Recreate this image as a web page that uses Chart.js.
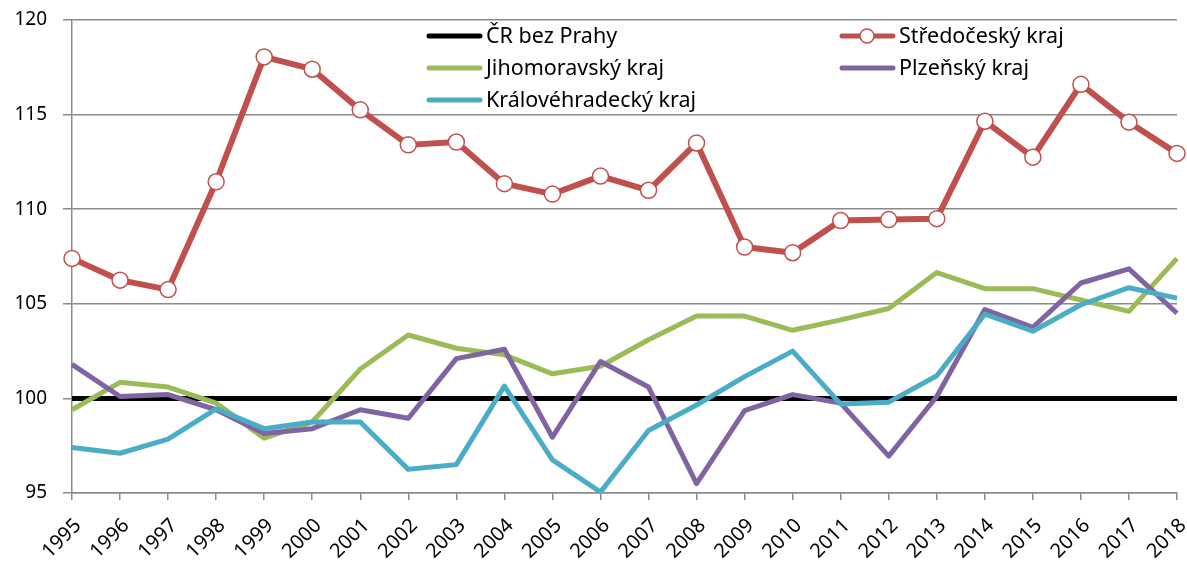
<!DOCTYPE html>
<html>
<head>
<meta charset="utf-8">
<script src="https://cdn.jsdelivr.net/npm/chart.js@4"></script>
<style>
  html, body { margin: 0; padding: 0; background: #fff; }
  #wrap { width: 1187px; height: 563px; }
</style>
</head>
<body>
<div id="wrap"><canvas id="myLineChart1"></canvas></div>
<script>
// roky na ose X
var roky = ["1995","1996","1997","1998","1999","2000","2001","2002","2003","2004","2005","2006",
            "2007","2008","2009","2010","2011","2012","2013","2014","2015","2016","2017","2018"];

// hodnoty jednotlivych krajov (CR bez Prahy = 100)
var crBezPrahy = [100,100,100,100,100,100,100,100,100,100,100,100,100,100,100,100,100,100,100,100,100,100,100,100];
var stredocesky = [107.4,106.25,105.75,111.45,118.05,117.4,115.25,113.4,113.55,111.35,110.8,111.75,
                   111.0,113.5,108.0,107.7,109.4,109.45,109.5,114.65,112.75,116.6,114.6,112.95];
var jihomoravsky = [99.4,100.85,100.6,99.75,97.9,98.75,101.55,103.35,102.65,102.3,101.3,101.7,
                    103.1,104.35,104.35,103.6,104.15,104.75,106.65,105.8,105.8,105.2,104.6,107.4];
var plzensky = [101.8,100.1,100.2,99.4,98.15,98.4,99.4,98.95,102.1,102.6,97.95,101.95,
                100.6,95.5,99.35,100.2,99.75,96.95,100.1,104.7,103.75,106.1,106.85,104.5];
var kralovehradecky = [97.4,97.1,97.85,99.45,98.4,98.75,98.75,96.25,96.5,100.65,96.75,95.05,
                       98.3,99.65,101.15,102.5,99.7,99.8,101.2,104.45,103.55,104.95,105.85,105.3];

var FONT = "'Noto Sans', sans-serif";
var GRID = "#8a8a8a";

// legenda ve dvou sloupcich uvnitr grafu
var legendaPlugin = {
  id: 'legenda',
  afterDraw: function (chart) {
    var c = chart.ctx;
    var a = chart.chartArea;
    var ds = chart.data.datasets;
    var sloupce = [a.left + 355, a.left + 768];
    var radky = [a.top + 16, a.top + 48, a.top + 80];
    c.save();
    c.font = "21.5px " + FONT;
    c.textBaseline = "middle";
    for (var i = 0; i < ds.length; i++) {
      var d = ds[i];
      var x = sloupce[i % 2];
      var y = radky[Math.floor(i / 2)];
      c.lineCap = "round";
      c.strokeStyle = d.borderColor;
      c.lineWidth = 5;
      c.beginPath();
      c.moveTo(x + 2, y);
      c.lineTo(x + 53, y);
      c.stroke();
      if (d.pointRadius > 0) {
        c.beginPath();
        c.arc(x + 27, y, 7, 0, Math.PI * 2);
        c.fillStyle = d.pointBackgroundColor;
        c.fill();
        c.lineWidth = 1.5;
        c.strokeStyle = d.pointBorderColor;
        c.stroke();
      }
      c.fillStyle = "#000";
      c.fillText(d.label, x + 59, y + 1);
    }
    c.restore();
  }
};

var ctx = document.getElementById("myLineChart1");
var myChart = new Chart(ctx, {
  type: 'line',
  data: {
    labels: roky,
    datasets: [
      { label: 'ČR bez Prahy', data: crBezPrahy, borderColor: '#000000', borderWidth: 5,
        pointRadius: 0, order: 5 },
      { label: 'Středočeský kraj', data: stredocesky, borderColor: '#C0504D', borderWidth: 6,
        pointRadius: 8, pointBackgroundColor: '#ffffff', pointBorderColor: '#C0504D',
        pointBorderWidth: 1.5, order: 4 },
      { label: 'Jihomoravský kraj', data: jihomoravsky, borderColor: '#9BBB59', borderWidth: 5,
        pointRadius: 0, order: 3 },
      { label: 'Plzeňský kraj', data: plzensky, borderColor: '#8064A2', borderWidth: 5,
        pointRadius: 0, order: 2 },
      { label: 'Královéhradecký kraj', data: kralovehradecky, borderColor: '#4BACC6', borderWidth: 5,
        pointRadius: 0, order: 1 }
    ]
  },
  options: {
    responsive: true,
    maintainAspectRatio: false,
    animation: false,
    layout: { padding: { top: 20, right: 10, left: 0, bottom: 0 } },
    elements: { line: { tension: 0, borderJoinStyle: 'round', borderCapStyle: 'butt' } },
    plugins: { legend: { display: false }, tooltip: { enabled: false } },
    scales: {
      x: {
        offset: false,
        grid: { drawOnChartArea: false, drawTicks: true, tickLength: 7, color: GRID, lineWidth: 1.5 },
        border: { color: GRID, width: 1.5 },
        ticks: { minRotation: 45, maxRotation: 45, autoSkip: false, padding: 14, labelOffset: 6,
                 color: '#000', font: { family: FONT, size: 20 } },
        afterFit: function (s) { s.height = 70; s.paddingLeft = 0; s.paddingRight = 0; }
      },
      y: {
        min: 95, max: 120,
        grid: { color: GRID, lineWidth: 1.5, tickLength: 9 },
        border: { color: GRID, width: 1.5 },
        ticks: { stepSize: 5, padding: 16, color: '#000', font: { family: FONT, size: 19 } },
        afterFit: function (s) { s.width = 72; s.paddingTop = 0; s.paddingBottom = 0; }
      }
    }
  },
  plugins: [legendaPlugin]
});
</script>
</body>
</html>
